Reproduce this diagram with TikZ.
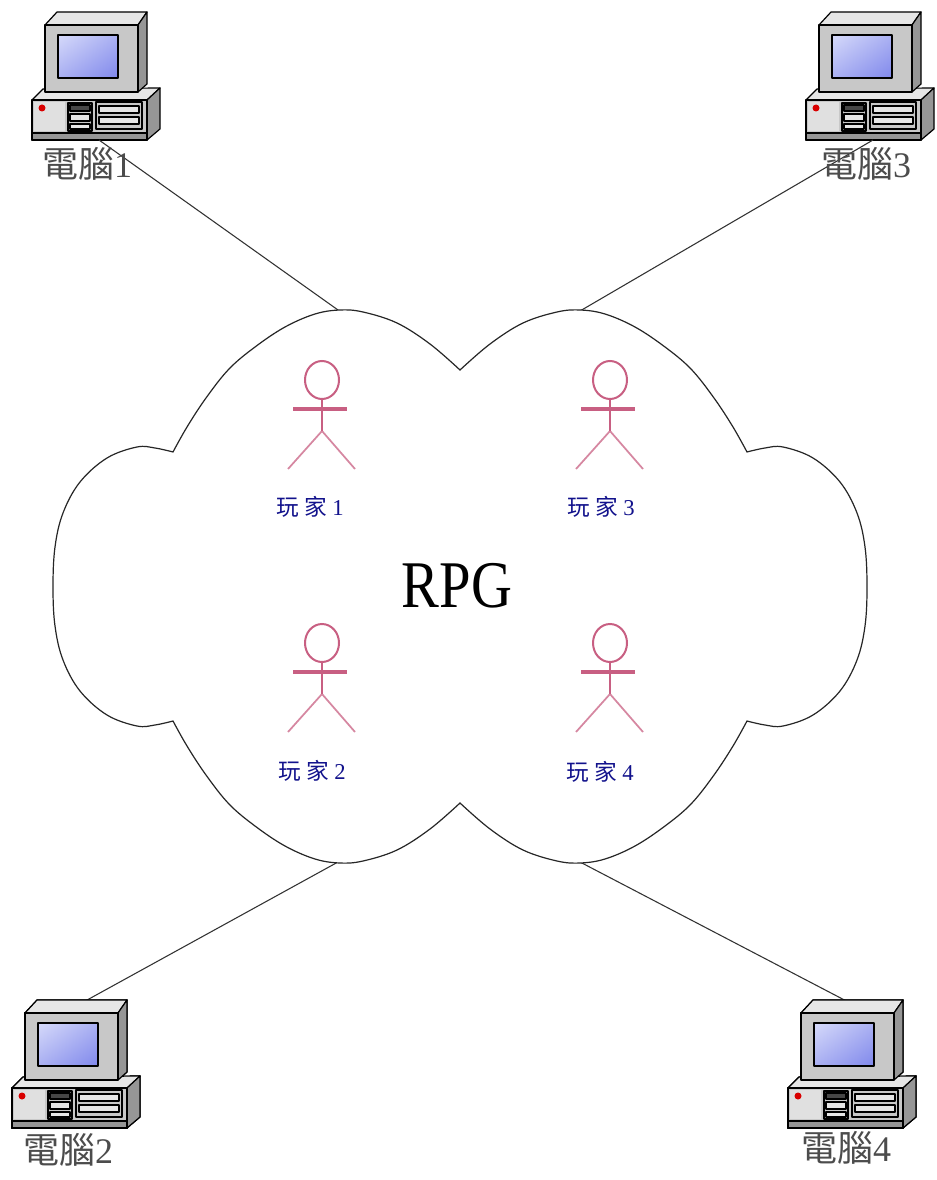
\documentclass[tikz,border=0pt]{standalone}
\usepackage{fontspec}
\setmainfont{Liberation Serif}
\newfontfamily\cjkfont{Noto Sans CJK TC}
\usetikzlibrary{shadings}

\definecolor{pcface}{RGB}{200,200,200}
\definecolor{pctop}{RGB}{230,230,230}
\definecolor{pcside}{RGB}{150,150,150}
\definecolor{pcdark}{RGB}{70,70,70}
\definecolor{scrlight}{RGB}{214,218,250}
\definecolor{scrmid}{RGB}{170,176,242}
\definecolor{scrdark}{RGB}{128,136,236}
\definecolor{actorpink}{RGB}{200,95,130}
\definecolor{navylabel}{RGB}{18,18,140}
\definecolor{linkgray}{RGB}{50,50,50}

\tikzset{
  outline/.style={draw=black, line width=0.9pt, line join=round},
  link/.style={draw=linkgray, line width=0.8pt},
  cloudline/.style={draw=black!85, line width=0.9pt, fill=white},
  actorline/.style={draw=actorpink, line width=1.5pt},
  actorarm/.style={draw=actorpink, line width=2.8pt},
  actorleg/.style={draw=actorpink!75, line width=1.3pt},
  plabel/.style={text=navylabel, font=\fontsize{17}{20}\selectfont, inner sep=0pt},
  pclabel/.style={text=black!70, font=\fontsize{27}{30}\selectfont, inner sep=0pt},
  bigtitle/.style={font=\fontsize{50}{56}\selectfont, inner sep=0pt},
  % desktop computer: origin at the front-left corner of the case, top of the monitor
  computer/.pic={
    % case
    \filldraw[outline, fill=pctop] (0,88) -- (11,77) -- (128,76) -- (115,88) -- cycle;
    \filldraw[outline, fill=pcside] (115,88) -- (128,76) -- (128,117) -- (115,128) -- cycle;
    \filldraw[outline, fill=pcface] (0,88) rectangle (115,128);
    \filldraw[outline, fill=pcside] (0,121) rectangle (115,128);
    % front panel
    \fill[black!12] (2,90) rectangle (33,119);
    \fill[red!85!black] (10,96) circle [radius=3.5];
    \filldraw[outline, fill=pcface] (36,91) rectangle (60,119);
    \filldraw[outline, fill=pcdark] (38,93) rectangle (58,99);
    \filldraw[outline, fill=pctop] (38,102) rectangle (58,109);
    \filldraw[outline, fill=pctop] (38,112) rectangle (58,117);
    \filldraw[outline, fill=pcface] (64,90) rectangle (110,117);
    \filldraw[outline, fill=pctop] (67,94) rectangle (107,101);
    \filldraw[outline, fill=pctop] (67,105) rectangle (107,112);
    % monitor
    \filldraw[outline, fill=pctop] (13,13) -- (25,0) -- (115,0) -- (106,13) -- cycle;
    \filldraw[outline, fill=pcside] (106,13) -- (115,0) -- (115,72) -- (106,80) -- cycle;
    \filldraw[outline, fill=pcface] (13,13) rectangle (106,80);
    \shade[upper left=scrlight, upper right=scrmid, lower left=scrmid, lower right=scrdark]
      (26,23) rectangle (86,66);
    \draw[outline] (26,23) rectangle (86,66);
    \coordinate (-top) at (66,5);
    \coordinate (-bottom) at (67,128);
  },
  % stick figure: origin at the centre of the head
  actor/.pic={
    \draw[actorleg] (-34,89) -- (0,51) -- (33,89);
    \draw[actorline] (0,19) -- (0,51);
    \draw[actorarm] (-29,29) -- (25,29);
    \draw[actorline] (0,0) ellipse [x radius=17, y radius=19];
  }
}

\begin{document}
\begin{tikzpicture}[x=0.75pt, y=-0.75pt]
  \fill[white] (0,0) rectangle (936,1180);
  \useasboundingbox (0,0) rectangle (936,1180);

  % points where the links meet the cloud
  \coordinate (cloud-tl) at (338,310);
  \coordinate (cloud-tr) at (580,311);
  \coordinate (cloud-bl) at (338,862);
  \coordinate (cloud-br) at (580,862);

  % computers
  \pic (pc1) at (32,12) {computer};
  \pic (pc3) at (806,12) {computer};
  \pic (pc2) at (12,1000) {computer};
  \pic (pc4) at (788,1000) {computer};

  % links
  \draw[link] (pc1-bottom) -- (cloud-tl);
  \draw[link] (pc3-bottom) -- (cloud-tr);
  \draw[link] (pc2-top) -- (cloud-bl);
  \draw[link] (pc4-top) -- (cloud-br);

  % redraw the monitors of the lower computers over their links
  \pic at (12,1000) {computer};
  \pic at (788,1000) {computer};

  % cloud
  \path[cloudline]
    plot[smooth, tension=0.6] coordinates {(460,370) (430,344) (397,323) (363,312) (340,310)
      (315,314) (285,327) (255,347) (229,369) (206,398) (187,427) (173,452)}
    -- plot[smooth, tension=0.6] coordinates {(173,452) (155,448) (137,447) (107,458) (80,482)
      (63,513) (55,547) (53,587) (55,626) (63,660) (80,691) (107,715) (137,726) (155,725) (173,721)}
    -- plot[smooth, tension=0.6] coordinates {(173,721) (187,746) (206,775) (229,804) (255,826)
      (285,846) (315,859) (340,863) (363,861) (397,850) (430,829) (460,803)}
    -- plot[smooth, tension=0.6] coordinates {(460,803) (490,829) (523,850) (557,861) (580,863)
      (605,859) (635,846) (665,826) (691,804) (714,775) (733,746) (747,721)}
    -- plot[smooth, tension=0.6] coordinates {(747,721) (765,725) (783,726) (813,715) (840,691)
      (857,660) (865,626) (867,587) (865,547) (857,513) (840,482) (813,458) (783,447) (765,448) (747,452)}
    -- plot[smooth, tension=0.6] coordinates {(747,452) (733,427) (714,398) (691,369) (665,347)
      (635,327) (605,314) (580,310) (557,312) (523,323) (490,344) (460,370)}
    -- cycle;

  % title
  \node[bigtitle] (rpg) at (457,586) {\scalebox{0.85}[1]{RPG}};

  % players
  \pic at (322,380) {actor};
  \pic at (610,380) {actor};
  \pic at (322,643) {actor};
  \pic at (610,643) {actor};
  \node[plabel] (p1) at (310,507) {{\cjkfont 玩\hspace{4pt}家}\hspace{4pt}1};
  \node[plabel] (p3) at (601,507) {{\cjkfont 玩\hspace{4pt}家}\hspace{4pt}3};
  \node[plabel] (p2) at (312,771) {{\cjkfont 玩\hspace{4pt}家}\hspace{4pt}2};
  \node[plabel] (p4) at (600,772) {{\cjkfont 玩\hspace{4pt}家}\hspace{4pt}4};

  % computer names
  \node[pclabel] (pc1-label) at (87,164) {{\cjkfont 電腦}1};
  \node[pclabel] (pc3-label) at (866,164) {{\cjkfont 電腦}3};
  \node[pclabel] (pc2-label) at (68,1150) {{\cjkfont 電腦}2};
  \node[pclabel] (pc4-label) at (846,1148) {{\cjkfont 電腦}4};
\end{tikzpicture}
\end{document}
